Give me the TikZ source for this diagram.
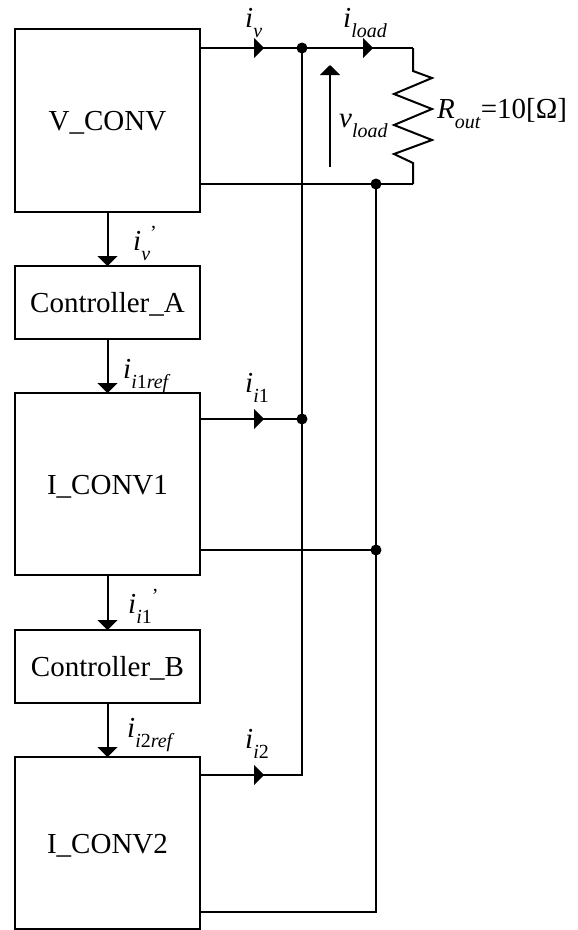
\documentclass[tikz,border=0pt]{standalone}
\usepackage{fontspec}
\setmainfont{Liberation Serif}
\usepackage{tikz}
\usetikzlibrary{arrows.meta, positioning, calc, decorations.markings}
\tikzset{
  x=1pt, y=1pt,
  convblock/.style={rectangle, draw, line width=2pt, outer sep=0pt, minimum width=185pt, minimum height=#1, inner sep=0pt, text height=24pt, text depth=4pt, font=\fontsize{29}{32}\selectfont},
  ctrlblock/.style={convblock=73pt},
  wire/.style={line width=2pt},
  flow/.style={-{Triangle[length=10pt, width=20pt]}, line width=2pt},
  midflow/.style={wire, postaction={decorate}, decoration={markings, mark=at position #1 with {\arrow{Triangle[length=10pt, width=20pt]}}}},
  junc/.style={circle, fill=black, inner sep=0pt, minimum size=11pt},
  lbl/.style={inner sep=0pt, anchor=base west, font=\fontsize{29}{32}\selectfont}
}
\newcommand{\subtxt}[1]{\raisebox{-10.5pt}{\fontsize{20}{20}\selectfont #1}}
\newcommand{\primetxt}{\raisebox{11pt}{\fontsize{20}{20}\selectfont '}}
\begin{document}
\begin{tikzpicture}
  \useasboundingbox (0,0) rectangle (578,-930);
  % blocks
  \node[convblock=183pt] (vconv) at (107.5,-120.5) {V\_CONV};
  \node[ctrlblock, below=54pt of vconv] (ctrla) {Controller\_A};
  \node[convblock=182pt, below=54pt of ctrla] (iconva) {I\_CONV1};
  \node[ctrlblock, below=55pt of iconva] (ctrlb) {Controller\_B};
  \node[convblock=172pt, below=54pt of ctrlb] (iconvb) {I\_CONV2};

  % ports and junctions
  \coordinate (vtop) at ($(vconv.north east)+(0,-19)$);
  \coordinate (vbot) at ($(vconv.south east)+(0,28)$);
  \coordinate (atop) at ($(iconva.north east)+(0,-26)$);
  \coordinate (abot) at ($(iconva.south east)+(0,25)$);
  \coordinate (btop) at ($(iconvb.north east)+(0,-18)$);
  \coordinate (bbot) at ($(iconvb.south east)+(0,17)$);
  \node[junc] (jv) at (302,0 |- vtop) {};
  \node[junc] (jr) at (376,0 |- vbot) {};
  \node[junc] (ja) at (302,0 |- atop) {};
  \node[junc] (jb) at (376,0 |- abot) {};
  \coordinate (rtop) at (413,0 |- vtop);
  \coordinate (rbot) at (413,0 |- vbot);
  \coordinate (cornera) at (302,0 |- btop);
  \coordinate (cornerb) at (376,0 |- bbot);

  % vertical flow
  \draw[flow] (vconv) -- (ctrla);
  \draw[flow] (ctrla) -- (iconva);
  \draw[flow] (iconva) -- (ctrlb);
  \draw[flow] (ctrlb) -- (iconvb);

  % outputs
  \draw[midflow=64pt] (vtop) -- (jv.center);
  \draw[midflow=71pt] (jv.center) -- (rtop);
  \draw[midflow=64pt] (atop) -- (ja.center);
  \draw[midflow=64pt] (btop) -- (cornera) -- (jv.center);
  \draw[wire] (vbot) -- (rbot);
  \draw[wire] (abot) -- (jb.center);
  \draw[wire] (bbot) -- (cornerb) -- (jr.center);

  % load resistor
  \draw[wire] (rtop) -- ++(0,-23) -- ++(19,-7) -- ++(-38,-16) -- ++(38,-15) -- ++(-38,-16) -- ++(38,-15) -- ++(-38,-14) -- ++(19,-9) -- (rbot);
  \coordinate (vlo) at (330,-167);
  \coordinate (vhi) at (330,-65);
  \draw[flow] (vlo) -- (vhi);

  % labels
  \node[lbl] (liv) at (245,-27) {\textit{i}\subtxt{\textit{v}}};
  \node[lbl] (liload) at (343,-27) {\textit{i}\subtxt{\textit{load}}};
  \node[lbl] (lvload) at (339,-127) {\textit{v}\subtxt{\textit{load}}};
  \node[lbl] (lrout) at (437,-118) {\textit{R}\subtxt{\textit{out}}=10[Ω]};
  \node[lbl] (lipv) at (133,-250) {\textit{i}\subtxt{\textit{v}}\primetxt};
  \node[lbl] (liaref) at (123,-378) {\textit{i}\subtxt{\textit{i}1\textit{ref}}};
  \node[lbl] (lia) at (245,-392) {\textit{i}\subtxt{\textit{i}1}};
  \node[lbl] (lipa) at (128,-613) {\textit{i}\subtxt{\textit{i}1}\primetxt};
  \node[lbl] (libref) at (127,-737) {\textit{i}\subtxt{\textit{i}2\textit{ref}}};
  \node[lbl] (lib) at (245,-748) {\textit{i}\subtxt{\textit{i}2}};
\end{tikzpicture}
\end{document}
